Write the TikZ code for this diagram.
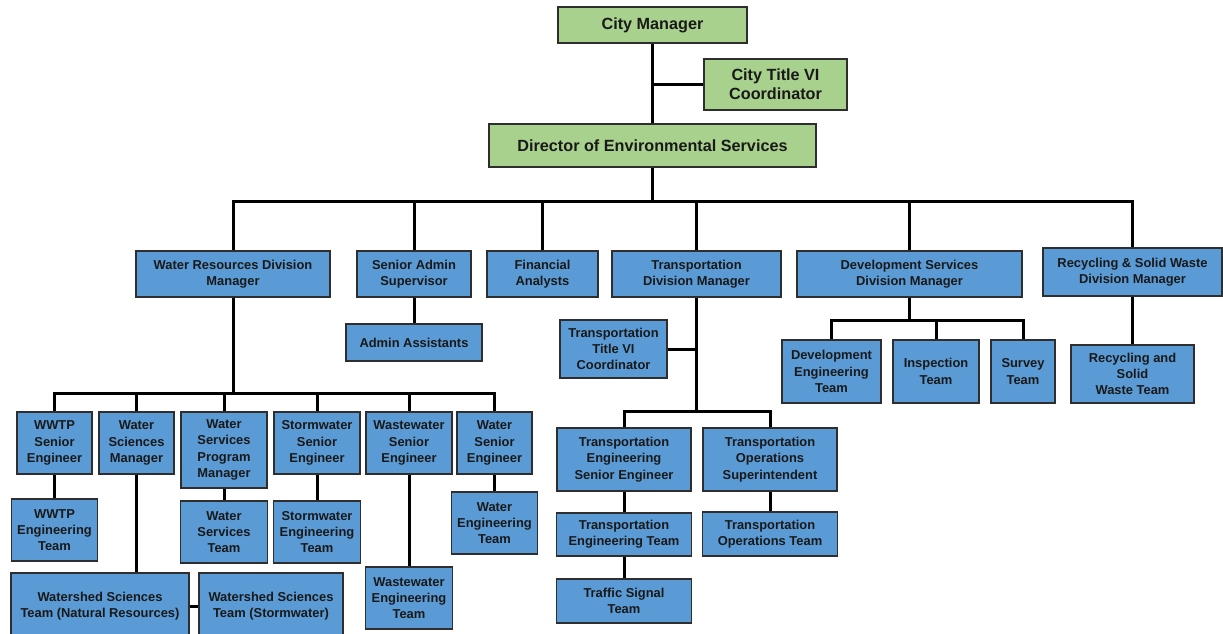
\documentclass[tikz,border=0pt]{standalone}
\usepackage{fontspec}
\setmainfont{Liberation Sans}

\definecolor{mgrgreen}{HTML}{A9D18E}
\definecolor{unitblue}{HTML}{5B9BD5}
\definecolor{boxline}{HTML}{2E2E2E}

\begin{document}
\begin{tikzpicture}[
    x=1pt, y=-1pt,
    wh/.style 2 args={minimum width=#1pt, minimum height=#2pt},
    top node/.style={
        draw=boxline, fill=mgrgreen, rectangle, line width=1.6pt,
        font=\fontsize{16.2}{19}\selectfont\bfseries, align=center, text=black!90, inner sep=2pt
    },
    unit node/.style={
        draw=boxline, fill=unitblue, rectangle, line width=1.6pt,
        font=\fontsize{12.9}{16.3}\selectfont\bfseries, align=center, text=black!90, inner sep=2pt
    },
    link/.style={line width=3pt, draw=black}
]

% Marco de la imagen
\useasboundingbox (0,0) rectangle (1223,633);
\clip (0,0) rectangle (1223,633);
\fill[white] (0,0) rectangle (1223,633);

% Barras horizontales de cada nivel
\coordinate (bus1) at (0,201);
\coordinate (bus2) at (0,393);
\coordinate (bus3) at (0,411);
\coordinate (bus4) at (0,320);

% ------------------------------------------------------------------------------
% 1. DIRECCION
% ------------------------------------------------------------------------------
\node[top node, wh={189}{36}] (cm) at (652.5,25) {City Manager};
\node[top node, wh={143}{51}] (ctvi) at (775.5,84.5) {City Title VI\\Coordinator};
\node[top node, wh={327}{43}] (des) at (652.5,145.5) {Director of Environmental Services};

% ------------------------------------------------------------------------------
% 2. DIVISIONES
% ------------------------------------------------------------------------------
\node[unit node, wh={194}{46}] (wrdm) at (233,274) {Water Resources Division\\Manager};
\node[unit node, wh={114}{46}] (sas) at (414,274) {Senior Admin\\Supervisor};
\node[unit node, wh={111}{46}] (fin) at (542.5,274) {Financial\\Analysts};
\node[unit node, wh={169}{46}] (tdm) at (696.5,274) {Transportation\\Division Manager};
\node[unit node, wh={225}{46}] (dsdm) at (909.5,274) {Development Services\\Division Manager};
\node[unit node, wh={179}{48}] (rsw) at (1132.5,272) {Recycling \& Solid Waste\\Division Manager};

\node[unit node, wh={136}{37}] (aa) at (414,342.5) {Admin Assistants};

% ------------------------------------------------------------------------------
% 3. RECURSOS HIDRICOS
% ------------------------------------------------------------------------------
\node[unit node, wh={75}{62}] (wwtp) at (54.5,443) {WWTP\\Senior\\Engineer};
\node[unit node, wh={75}{62}] (wsm) at (136.5,443) {Water\\Sciences\\Manager};
\node[unit node, wh={86}{76}] (wspm) at (224,450) {Water\\Services\\Program\\Manager};
\node[unit node, wh={86}{62}] (sse) at (317,443) {Stormwater\\Senior\\Engineer};
\node[unit node, wh={86}{62}] (wwse) at (409,443) {Wastewater\\Senior\\Engineer};
\node[unit node, wh={75}{62}] (wse) at (494.5,443) {Water\\Senior\\Engineer};

\node[unit node, wh={86}{62}] (wwtpt) at (54.5,530) {WWTP\\Engineering\\Team};
\node[unit node, wh={87}{62}] (wst) at (224,532) {Water\\Services\\Team};
\node[unit node, wh={87}{62}] (set) at (317,532) {Stormwater\\Engineering\\Team};
\node[unit node, wh={86}{62}] (wet) at (494.5,523) {Water\\Engineering\\Team};

\node[unit node, wh={178}{66}] (wnr) at (100,606) {Watershed Sciences\\Team (Natural Resources)};
\node[unit node, wh={144}{66}] (wsw) at (271,606) {Watershed Sciences\\Team (Stormwater)};
\node[unit node, wh={87}{62}] (wwet) at (409,598) {Wastewater\\Engineering\\Team};

% ------------------------------------------------------------------------------
% 4. TRANSPORTE
% ------------------------------------------------------------------------------
\node[unit node, wh={107}{58}] (ttvi) at (613.5,349) {Transportation\\Title VI\\Coordinator};
\node[unit node, wh={134}{63}] (tes) at (624,459.5) {Transportation\\Engineering\\Senior Engineer};
\node[unit node, wh={134}{63}] (tos) at (770,459.5) {Transportation\\Operations\\Superintendent};
\node[unit node, wh={135}{43}] (tet) at (624,534.5) {Transportation\\Engineering Team};
\node[unit node, wh={135}{44}] (tot) at (770,534) {Transportation\\Operations Team};
\node[unit node, wh={135}{44}] (tst) at (624,601) {Traffic Signal\\Team};

% ------------------------------------------------------------------------------
% 5. DESARROLLO Y RECICLAJE
% ------------------------------------------------------------------------------
\node[unit node, wh={99}{63}] (deng) at (831.5,371.5) {Development\\Engineering\\Team};
\node[unit node, wh={86}{63}] (insp) at (936,371.5) {Inspection\\Team};
\node[unit node, wh={64}{63}] (surv) at (1023,371.5) {Survey\\Team};
\node[unit node, wh={123}{58}] (rswt) at (1132.5,374) {Recycling and\\Solid\\Waste Team};

% ------------------------------------------------------------------------------
% 6. CONEXIONES
% ------------------------------------------------------------------------------
\draw[link] (cm.south) -- (des.north);
\draw[link] (ctvi.west) -- (ctvi.west -| cm.south);

\foreach \n in {wrdm, sas, fin, tdm, dsdm, rsw} {
    \draw[link] (des.south) -- (des.south |- bus1) -| (\n.north);
}

\draw[link] (sas.south) -- (aa.north);

% Recursos hidricos
\foreach \n in {wwtp, wsm, wspm, sse, wwse, wse} {
    \draw[link] (wrdm.south) -- (wrdm.south |- bus2) -| (\n.north);
}
\draw[link] (wwtp.south) -- (wwtpt.north);
\draw[link] (wspm.south) -- (wst.north);
\draw[link] (sse.south) -- (set.north);
\draw[link] (wse.south) -- (wet.north);
\draw[link] (wwse.south) -- (wwet.north);
\draw[link] (wsm.south) -- (wsm.south |- wnr.north);
\draw[link] (wnr.east) -- (wsw.west);

% Transporte
\draw[link] (ttvi.east) -- (ttvi.east -| tdm.south);
\foreach \n in {tes, tos} {
    \draw[link] (tdm.south) -- (tdm.south |- bus3) -| (\n.north);
}
\draw[link] (tes.south) -- (tet.north);
\draw[link] (tet.south) -- (tst.north);
\draw[link] (tos.south) -- (tot.north);

% Desarrollo y reciclaje
\foreach \n in {deng, insp, surv} {
    \draw[link] (dsdm.south) -- (dsdm.south |- bus4) -| (\n.north);
}
\draw[link] (rsw.south) -- (rswt.north);

\end{tikzpicture}
\end{document}
